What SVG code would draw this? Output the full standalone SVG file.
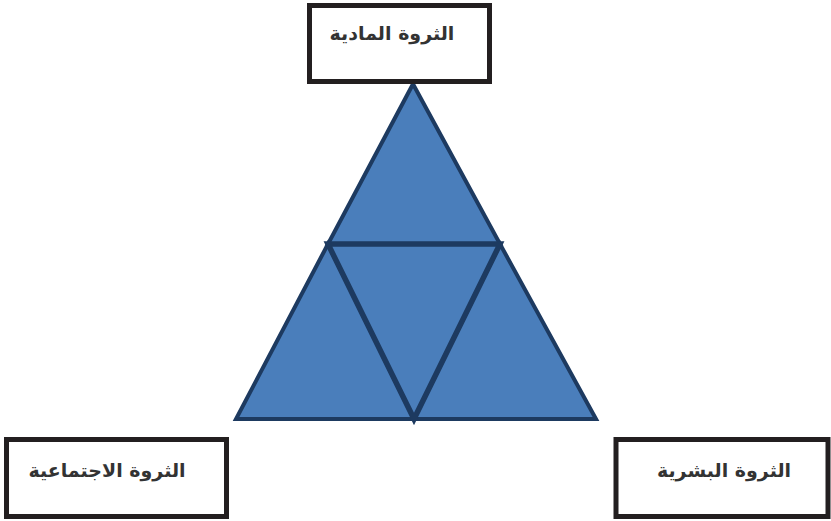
<svg xmlns="http://www.w3.org/2000/svg" width="831" height="521" viewBox="0 0 831 521">
<style>
.box{fill:#ffffff;stroke:#231f20;stroke-width:5}
.lbl{font-family:"DejaVu Sans",sans-serif;font-weight:bold;font-size:19px;fill:#333333;text-anchor:middle}
.tri{fill:#4a7ebb;stroke:#1d3a60;stroke-width:4;stroke-linejoin:miter}
.mid{stroke-width:5.5}
</style>
<rect width="831" height="521" fill="#ffffff"/>
<g id="triangle">
<polygon class="tri" points="413,84 328,244 500,244"/>
<polygon class="tri" points="328,244 236,419 414,419"/>
<polygon class="tri" points="500,244 414,419 596,419"/>
<polygon class="tri mid" points="328,244 500,244 414,419"/>
<line x1="328" y1="244" x2="500" y2="244" stroke="#1d3a60" stroke-width="4"/>
</g>
<g id="node-material">
<rect class="box" x="309.5" y="5.5" width="180" height="76"/>
<text class="lbl" x="392" y="40" direction="rtl">الثروة المادية</text>
</g>
<g id="node-social">
<rect class="box" x="6.5" y="439.5" width="220" height="77"/>
<text class="lbl" x="107" y="477" direction="rtl">الثروة الاجتماعية</text>
</g>
<g id="node-human">
<rect class="box" x="616" y="439.5" width="212" height="77"/>
<text class="lbl" x="724" y="477" direction="rtl">الثروة البشرية</text>
</g>
<g id="connectors"></g>
</svg>
